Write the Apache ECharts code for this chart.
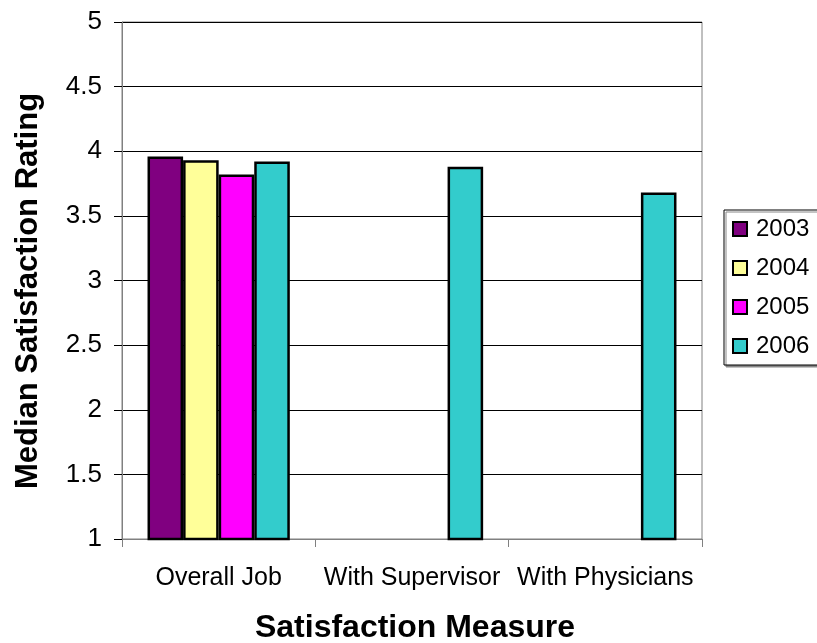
<!DOCTYPE html>
<html>
<head>
<meta charset="utf-8">
<script src="https://cdn.jsdelivr.net/npm/echarts@6/dist/echarts.min.js"></script>
<style>
  html, body { margin: 0; padding: 0; background: #fff; }
  #chart { width: 817px; height: 643px; }
</style>
</head>
<body>
<div id="chart"></div>
<script>
// Satisfaction measures and median ratings per survey year
const categories = ['Overall Job', 'With Supervisor', 'With Physicians'];
const years = ['2003', '2004', '2005', '2006'];
const values2003 = [3.96, null, null];
const values2004 = [3.93, null, null];
const values2005 = [3.82, null, null];
const values2006 = [3.92, 3.88, 3.68];
const yearColors = ['#800080', '#FFFF99', '#FF00FF', '#33CCCC'];
const xTitle = 'Satisfaction Measure';
const yTitle = 'Median Satisfaction Rating';

const seriesValues = [values2003, values2004, values2005, values2006];
const font = 'Arial, "Liberation Sans", sans-serif';

const chart = echarts.init(document.getElementById('chart'));
chart.setOption({
  animation: false,
  backgroundColor: '#fff',
  grid: { left: 122, right: 115, top: 22, bottom: 104, show: true, borderColor: '#808080', borderWidth: 1 },
  legend: {
    orient: 'vertical',
    left: 724,
    top: 210,
    data: years,
    itemWidth: 14,
    itemHeight: 14,
    itemGap: 15,
    padding: [7, 40, 7, 8],
    borderColor: '#000',
    borderWidth: 1,
    backgroundColor: '#fff',
    shadowColor: '#888',
    shadowOffsetX: 2,
    shadowOffsetY: 2,
    textStyle: { fontFamily: font, fontSize: 24, lineHeight: 24, color: '#000', padding: [0, 0, 0, 4] },
    icon: 'rect'
  },
  graphic: [
    {
      type: 'text',
      x: 415, y: 628,
      style: { text: xTitle, font: 'bold 32px ' + font, fill: '#000', align: 'center', verticalAlign: 'middle' }
    },
    {
      type: 'text',
      x: 28, y: 291,
      rotation: Math.PI / 2,
      style: { text: yTitle, font: 'bold 31px ' + font, fill: '#000', align: 'center', verticalAlign: 'middle' }
    }
  ],
  xAxis: {
    type: 'category',
    data: categories,
    axisLine: { lineStyle: { color: '#808080', width: 1 } },
    axisTick: { show: true, length: 8, lineStyle: { color: '#808080' } },
    axisLabel: { fontFamily: font, fontSize: 25, color: '#000', margin: 27, interval: 0, hideOverlap: false }
  },
  yAxis: {
    type: 'value',
    min: 1,
    max: 5,
    interval: 0.5,
    axisLine: { show: true, lineStyle: { color: '#808080', width: 1 } },
    axisTick: { show: true, length: 8, lineStyle: { color: '#000' } },
    axisLabel: { fontFamily: font, fontSize: 26, color: '#000', margin: 20 },
    splitLine: { show: true, lineStyle: { color: '#000', width: 1 } }
  },
  series: years.map((y, i) => ({
    name: y,
    type: 'bar',
    data: seriesValues[i],
    barWidth: '18.4%',
    barGap: '0%',
    itemStyle: { color: yearColors[i], borderColor: '#000', borderWidth: 2.5 }
  }))
});
</script>
</body>
</html>
